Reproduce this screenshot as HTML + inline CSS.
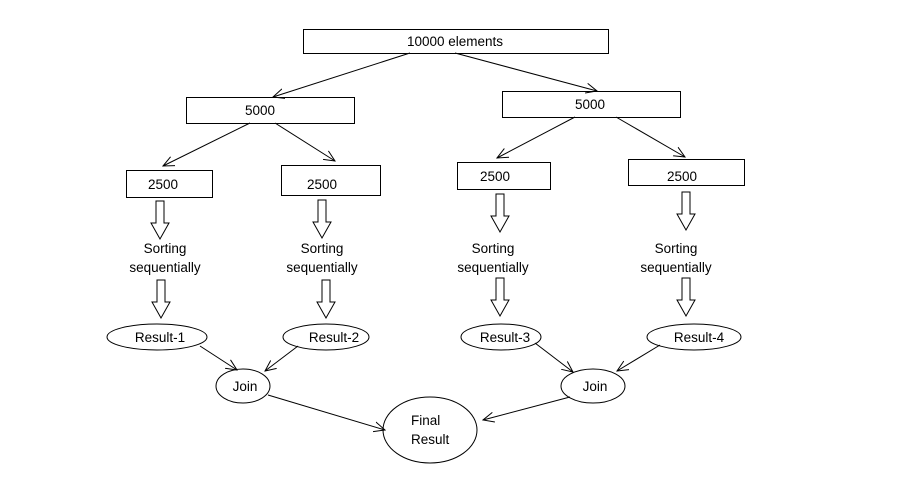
<!DOCTYPE html>
<html><head><style>body{margin:0;background:#fff}svg{display:block}text{font-family:"Liberation Sans",sans-serif;font-size:13.5px;fill:#000}</style></head><body>
<svg width="897" height="481" viewBox="0 0 897 481">
<defs><marker id="a" viewBox="0 0 12 12" refX="11" refY="6" markerWidth="12" markerHeight="12" markerUnits="userSpaceOnUse" orient="auto"><polyline points="0,1 11,6 0,11" fill="none" stroke="#000" stroke-width="1"/></marker>
<g id="b"><polygon points="-4,0 4,0 4,22 9,22 0,38 -9,22 -4,22" fill="#fff" stroke="#000"/></g></defs>
<g fill="#fff" stroke="#000" stroke-width="1">
<rect x="303.5" y="29.5" width="305" height="24"/>
<rect x="186.5" y="97.5" width="168" height="26"/>
<rect x="502.5" y="91.5" width="178" height="26"/>
<rect x="126.5" y="170.5" width="86" height="27"/>
<rect x="281.5" y="165.5" width="99" height="30"/>
<rect x="457.5" y="162.5" width="93" height="27"/>
<rect x="628.5" y="159.5" width="116" height="26"/>
<ellipse cx="157" cy="337" rx="50" ry="13"/>
<ellipse cx="326" cy="337" rx="43" ry="13"/>
<ellipse cx="501" cy="337" rx="40" ry="13"/>
<ellipse cx="694" cy="337" rx="47" ry="13"/>
<ellipse cx="243" cy="386" rx="27" ry="17"/>
<ellipse cx="593" cy="386" rx="32" ry="17"/>
<ellipse cx="430" cy="430" rx="47" ry="33"/>
</g>
<g stroke="#000" stroke-width="1" marker-end="url(#a)">
<line x1="410" y1="53" x2="273" y2="97"/>
<line x1="455" y1="53" x2="597" y2="91"/>
<line x1="250" y1="123" x2="163" y2="166"/>
<line x1="275" y1="123" x2="335" y2="161"/>
<line x1="575" y1="117" x2="497" y2="158"/>
<line x1="616" y1="117" x2="685" y2="157"/>
<line x1="200" y1="346" x2="237" y2="370"/>
<line x1="298" y1="346" x2="265" y2="371"/>
<line x1="535" y1="343" x2="573" y2="372"/>
<line x1="660" y1="345" x2="617" y2="371"/>
<line x1="268" y1="395" x2="385" y2="430"/>
<line x1="570" y1="397" x2="483" y2="420"/>
</g>
<use href="#b" x="160" y="201"/><use href="#b" x="322" y="200"/><use href="#b" x="500" y="194"/><use href="#b" x="686" y="192"/>
<use href="#b" x="161" y="280"/><use href="#b" x="326" y="280"/><use href="#b" x="500" y="278"/><use href="#b" x="686" y="278"/>
<g text-anchor="middle">
<text x="455" y="46">10000 elements</text>
<text x="260" y="115">5000</text>
<text x="590" y="109">5000</text>
<text x="163" y="189">2500</text>
<text x="322" y="189">2500</text>
<text x="495" y="181">2500</text>
<text x="682" y="181">2500</text>
<text x="165" y="253">Sorting</text><text x="165" y="272">sequentially</text>
<text x="322" y="253">Sorting</text><text x="322" y="272">sequentially</text>
<text x="493" y="253">Sorting</text><text x="493" y="272">sequentially</text>
<text x="676" y="253">Sorting</text><text x="676" y="272">sequentially</text>
<text x="160" y="342">Result-1</text>
<text x="334" y="342">Result-2</text>
<text x="505" y="342">Result-3</text>
<text x="699" y="342">Result-4</text>
<text x="245" y="391">Join</text>
<text x="595" y="391">Join</text>
</g>
<text x="411" y="425">Final</text><text x="411" y="444">Result</text>
</svg>
</body></html>
